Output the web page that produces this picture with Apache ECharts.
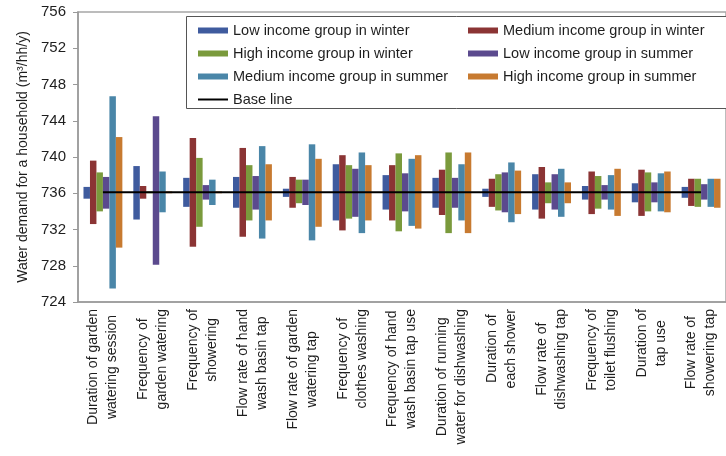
<!DOCTYPE html>
<html>
<head>
<meta charset="utf-8">
<script src="https://cdn.jsdelivr.net/npm/echarts@6/dist/echarts.min.js"></script>
<style>
    html, body { margin: 0; padding: 0; background: #fff; }
    #chart { width: 726px; height: 456px; }
</style>
</head>
<body>
<div id="chart"></div>
<script>
// 分类（横轴）
var categories = [
    'Duration of garden\nwatering session',
    'Frequency of\ngarden watering',
    'Frequency of\nshowering',
    'Flow rate of hand\nwash basin tap',
    'Flow rate of garden\nwatering tap',
    'Frequency of\nclothes washing',
    'Frequency of hand\nwash basin tap use',
    'Duration of running\nwater for dishwashing',
    'Duration of\neach shower',
    'Flow rate of\ndishwashing tap',
    'Frequency of\ntoilet flushing',
    'Duration of\ntap use',
    'Flow rate of\nshowering tap'
];

// 每组 [最低, 最高]
var lowWinter = [[735.4, 736.7], [733.1, 739.0], [734.5, 737.7], [734.4, 737.8], [735.6, 736.5], [733.0, 739.2], [734.2, 738.0],
    [734.4, 737.7], [735.6, 736.5], [734.2, 738.1], [735.3, 736.8], [735.0, 737.1], [735.5, 736.7]];
var mediumWinter = [[732.6, 739.6], [735.4, 736.8], [730.1, 742.1], [731.2, 741.0], [734.4, 737.8], [731.9, 740.2], [733.0, 739.1],
    [733.6, 738.6], [734.5, 737.6], [733.2, 738.9], [733.7, 738.4], [733.5, 738.6], [734.6, 737.6]];
var highWinter = [[734.0, 738.3], [736.0, 736.2], [732.3, 739.9], [733.0, 739.1], [734.9, 737.5], [733.2, 739.1], [731.8, 740.4],
    [731.6, 740.5], [734.1, 738.1], [734.9, 737.2], [734.3, 737.9], [734.0, 738.3], [734.5, 737.6]];
var lowSummer = [[734.3, 737.8], [728.1, 744.5], [735.3, 736.9], [734.2, 737.9], [734.7, 737.5], [733.4, 738.7], [734.0, 738.2],
    [734.4, 737.7], [733.9, 738.3], [734.2, 738.1], [735.3, 736.9], [735.0, 737.2], [735.3, 737.0]];
var mediumSummer = [[725.5, 746.7], [733.9, 738.4], [734.7, 737.5], [731.0, 741.2], [730.8, 741.4], [731.6, 740.5], [732.4, 739.8],
    [733.0, 739.2], [732.8, 739.4], [733.4, 738.7], [734.2, 738.0], [734.0, 738.2], [734.5, 737.6]];
var highSummer = [[730.0, 742.2], [736.0, 736.2], [736.0, 736.2], [733.0, 739.2], [732.3, 739.8], [733.0, 739.1], [732.1, 740.2],
    [731.6, 740.5], [733.7, 738.5], [734.9, 737.2], [733.5, 738.7], [733.9, 738.4], [734.4, 737.6]];

// 基准线
var baseLine = [736.1, 736.1, 736.1, 736.1, 736.1, 736.1, 736.1, 736.1, 736.1, 736.1, 736.1, 736.1, 736.1];

var groups = [
    { name: 'Low income group in winter', data: lowWinter, color: '#3f5b9e' },
    { name: 'Medium income group in winter', data: mediumWinter, color: '#8b3434' },
    { name: 'High income group in winter', data: highWinter, color: '#7a9a3c' },
    { name: 'Low income group in summer', data: lowSummer, color: '#5b4a8e' },
    { name: 'Medium income group in summer', data: mediumSummer, color: '#4a86a8' },
    { name: 'High income group in summer', data: highSummer, color: '#c77a30' }
];

var textColor = '#1e1e1e';
var fontName = 'Liberation Sans, Arial, sans-serif';

// 悬浮柱：透明底 + 区间
var series = [];
groups.forEach(function (g, i) {
    series.push({
        name: g.name + ' base',
        type: 'bar',
        stack: 's' + i,
        silent: true,
        itemStyle: { color: 'transparent' },
        data: g.data.map(function (d) { return d[0]; })
    });
    series.push({
        name: g.name,
        type: 'bar',
        stack: 's' + i,
        itemStyle: { color: g.color },
        data: g.data.map(function (d) { return d[1] - d[0]; })
    });
});
series.push({
    name: 'Base line',
    type: 'line',
    symbol: 'none',
    z: 5,
    lineStyle: { color: '#000', width: 2 },
    itemStyle: { color: '#000' },
    data: baseLine
});

function legendItems(list) {
    return list.map(function (n) {
        // 基准线图例只要线，不要圆点
        return n === 'Base line' ? { name: n, itemStyle: { opacity: 0 } } : { name: n, icon: 'rect' };
    });
}

var legendCommon = {
    orient: 'vertical',
    top: 23,
    padding: 0,
    itemWidth: 30,
    itemHeight: 6,
    itemGap: 8,
    selectedMode: false,
    textStyle: { fontSize: 14.5, color: textColor, fontFamily: fontName }
};

var option = {
    animation: false,
    backgroundColor: '#fff',
    grid: {
        left: 78, right: -10, top: 12, bottom: 154,
        show: true, borderColor: '#a6a6a6', borderWidth: 1.5
    },
    graphic: [{
        type: 'rect',
        z: 1,
        shape: { x: 186.5, y: 16.5, width: 600, height: 92 },
        style: { fill: '#fff', stroke: '#555', lineWidth: 1 }
    }],
    legend: [
        Object.assign({ left: 197, data: legendItems([groups[0].name, groups[2].name, groups[4].name, 'Base line']) }, legendCommon),
        Object.assign({ left: 468, data: legendItems([groups[1].name, groups[3].name, groups[5].name]) }, legendCommon)
    ],
    xAxis: {
        type: 'category',
        data: categories,
        axisLine: { lineStyle: { color: '#999', width: 1.5 } },
        axisTick: { length: 5, lineStyle: { color: '#999' } },
        axisLabel: {
            rotate: 90,
            interval: 0,
            margin: 7,
            color: textColor,
            fontFamily: fontName,
            fontSize: 14,
            formatter: function (v) {
                return v.split('\n').map(function (s) { return '{c|' + s + '}'; }).join('\n');
            },
            rich: {
                c: { align: 'center', fontSize: 14, lineHeight: 19, color: textColor, fontFamily: fontName }
            }
        }
    },
    yAxis: {
        type: 'value',
        min: 724,
        max: 756,
        interval: 4,
        name: 'Water demand for a household (m³/hh/y)',
        nameLocation: 'middle',
        nameGap: 48,
        nameTextStyle: { fontSize: 14, color: textColor, fontFamily: fontName },
        axisLine: { show: true, lineStyle: { color: '#999', width: 1.5 } },
        axisTick: { show: true, length: 5, lineStyle: { color: '#999' } },
        splitLine: { show: false },
        axisLabel: { margin: 12, fontSize: 15, color: textColor, fontFamily: fontName }
    },
    series: series
};
series.forEach(function (s) {
    if (s.type === 'bar') { s.barGap = '0%'; s.barCategoryGap = '22%'; }
});

var myChart = echarts.init(document.getElementById('chart'));
myChart.setOption(option);
</script>
</body>
</html>
